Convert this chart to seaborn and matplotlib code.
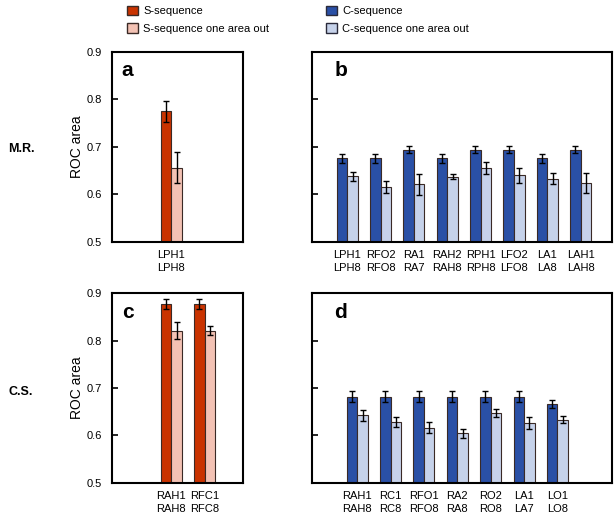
import pandas as pd
import seaborn as sns
import matplotlib.pyplot as plt
from matplotlib.patches import Patch

# Dados
cat_a = ['LPH1\nLPH8']
s_a = [0.775]
s_a_err = [0.022]
so_a = [0.656]
so_a_err = [0.033]

cat_b = ['LPH1\nLPH8', 'RFO2\nRFO8', 'RA1\nRA7', 'RAH2\nRAH8',
         'RPH1\nRPH8', 'LFO2\nLFO8', 'LA1\nLA8', 'LAH1\nLAH8']
c_b = [0.676, 0.676, 0.694, 0.676, 0.694, 0.694, 0.676, 0.694]
c_b_err = [0.009, 0.009, 0.008, 0.009, 0.008, 0.008, 0.009, 0.008]
co_b = [0.638, 0.615, 0.621, 0.637, 0.655, 0.640, 0.633, 0.623]
co_b_err = [0.010, 0.013, 0.022, 0.005, 0.013, 0.016, 0.011, 0.021]

cat_c = ['RAH1\nRAH8', 'RFC1\nRFC8']
s_c = [0.878, 0.878]
s_c_err = [0.011, 0.011]
so_c = [0.821, 0.821]
so_c_err = [0.018, 0.009]

cat_d = ['RAH1\nRAH8', 'RC1\nRC8', 'RFO1\nRFO8', 'RA2\nRA8',
         'RO2\nRO8', 'LA1\nLA7', 'LO1\nLO8']
c_d = [0.682, 0.682, 0.682, 0.682, 0.682, 0.682, 0.666]
c_d_err = [0.011, 0.011, 0.011, 0.011, 0.011, 0.011, 0.008]
co_d = [0.642, 0.628, 0.616, 0.604, 0.647, 0.626, 0.633]
co_d_err = [0.012, 0.011, 0.012, 0.010, 0.008, 0.012, 0.007]

S_DARK, S_LIGHT = '#c93300', '#f3c2b4'
C_DARK, C_LIGHT = '#2a50a6', '#c6d2ea'

sns.set_style('white')
plt.rcParams['font.family'] = ['Liberation Sans', 'DejaVu Sans']
plt.rcParams['text.color'] = 'black'
plt.rcParams['axes.labelcolor'] = 'black'
plt.rcParams['xtick.color'] = 'black'
plt.rcParams['ytick.color'] = 'black'

fig = plt.figure(figsize=(6.16, 5.22), dpi=100)
W, H = 616, 522


def make_ax(x0, x1, y0, y1):
    return fig.add_axes([x0 / W, 1 - y1 / H, (x1 - x0) / W, (y1 - y0) / H])


def panel(ax, cats, v1, e1, v2, e2, names, colors, xlim, letter, ylabels):
    df = pd.DataFrame({
        'cat': cats * 2,
        'val': v1 + v2,
        'serie': [names[0]] * len(cats) + [names[1]] * len(cats),
    })
    sns.barplot(data=df, x='cat', y='val', hue='serie', palette=colors,
                width=0.63, errorbar=None, edgecolor='#3a2a26', saturation=1,
                linewidth=0.8, legend=False, ax=ax)
    for cont, v, e in zip(ax.containers, [v1, v2], [e1, e2]):
        xs = [p.get_x() + p.get_width() / 2 for p in cont]
        ax.errorbar(xs, v, yerr=e, fmt='none', ecolor='black',
                    elinewidth=1, capsize=2, capthick=1)
    ax.set_ylim(0.5, 0.9)
    ax.set_xlim(*xlim)
    ax.set_yticks([0.5, 0.6, 0.7, 0.8, 0.9])
    ax.set_xlabel('')
    ax.set_ylabel('')
    ax.tick_params(axis='y', direction='in', length=4, width=1.2,
                   left=True, labelsize=8, pad=7, labelleft=ylabels)
    ax.tick_params(axis='x', length=0, labelsize=8, pad=6)
    for lab in ax.get_xticklabels():
        lab.set_linespacing(1.35)
    for s in ax.spines.values():
        s.set_linewidth(1.5)
        s.set_color('black')
    ax.text(0.075, 0.95, letter, transform=ax.transAxes, fontsize=15,
            fontweight='bold', va='top', ha='left')
    if ylabels:
        ax.set_ylabel('ROC area', fontsize=10, labelpad=2)


s_names = ['S-sequence', 'S-sequence one area out']
c_names = ['C-sequence', 'C-sequence one area out']

ax_a = make_ax(112, 243, 52, 241.7)
panel(ax_a, cat_a, s_a, s_a_err, so_a, so_a_err, s_names, [S_DARK, S_LIGHT],
      (-1.78, 2.15), 'a', True)
ax_b = make_ax(312, 612, 52, 241.7)
panel(ax_b, cat_b, c_b, c_b_err, co_b, co_b_err, c_names, [C_DARK, C_LIGHT],
      (-1.06, 7.94), 'b', False)
ax_c = make_ax(112, 243, 293.3, 482.7)
panel(ax_c, cat_c, s_c, s_c_err, so_c, so_c_err, s_names, [S_DARK, S_LIGHT],
      (-1.78, 2.15), 'c', True)
ax_d = make_ax(312, 612, 293.3, 482.7)
panel(ax_d, cat_d, c_d, c_d_err, co_d, co_d_err, c_names, [C_DARK, C_LIGHT],
      (-1.36, 7.64), 'd', False)

# Rótulos das linhas
fig.text(21 / W, 1 - 149 / H, 'M.R.', fontsize=9, fontweight='bold',
         ha='center', va='center')
fig.text(21 / W, 1 - 392 / H, 'C.S.', fontsize=9, fontweight='bold',
         ha='center', va='center')

# Legenda
h_s = [Patch(facecolor=S_DARK, edgecolor='#3a2a26', label=s_names[0]),
       Patch(facecolor=S_LIGHT, edgecolor='#3a2a26', label=s_names[1])]
h_c = [Patch(facecolor=C_DARK, edgecolor='#2a2a3a', label=c_names[0]),
       Patch(facecolor=C_LIGHT, edgecolor='#2a2a3a', label=c_names[1])]
for hs, x in [(h_s, 121), (h_c, 320)]:
    fig.legend(handles=hs, loc='upper left', bbox_to_anchor=(x / W, 1.0),
               frameon=False, fontsize=8, handlelength=1.0, handleheight=1.0,
               handletextpad=0.5, labelspacing=0.6, borderaxespad=0.1)

plt.savefig('out.png', dpi=100)
